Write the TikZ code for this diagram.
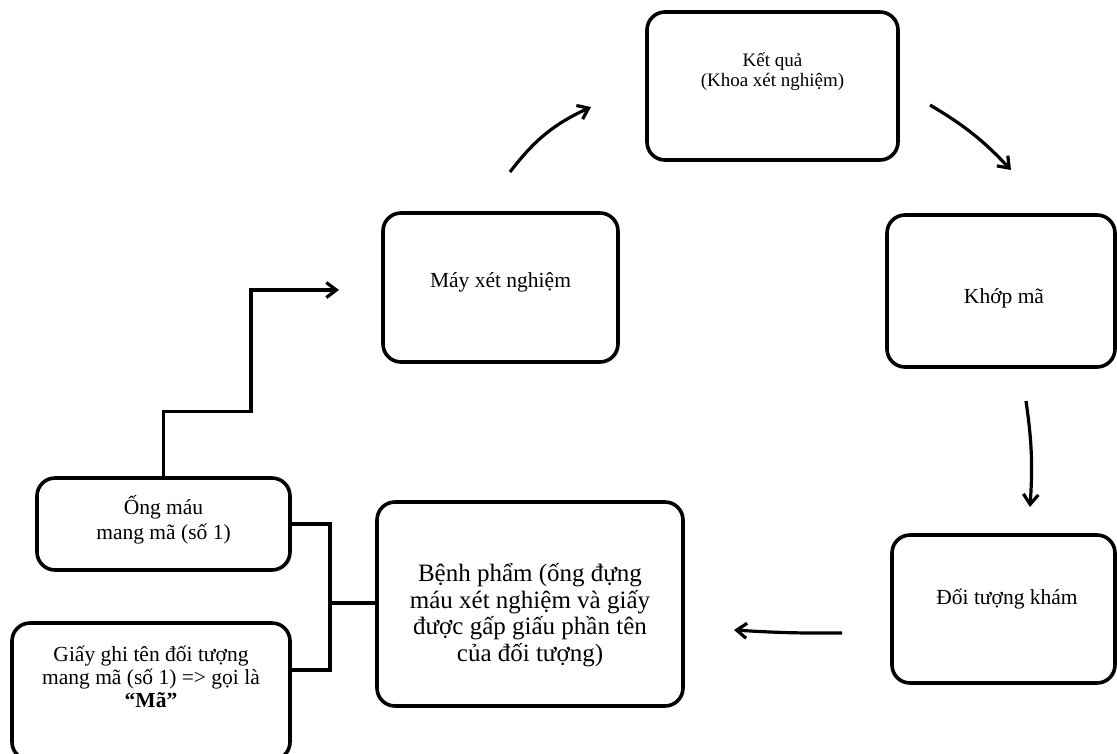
\documentclass[tikz,border=0pt]{standalone}
\usepackage{fontspec}
\setmainfont{Liberation Serif}
\usetikzlibrary{arrows.meta}
\tikzset{
  box/.style={draw, line width=3.6pt, rounded corners=18pt, inner sep=0pt},
  txt/.style={font=\fontsize{21.5}{25}\selectfont, align=center, text=black, inner sep=0pt},
  conn/.style={line width=3.2pt},
  arr/.style={line width=3.2pt, -{Straight Barb[length=10pt,width=15pt]}},
}
\begin{document}
\begin{tikzpicture}[x=1pt,y=-1pt]
\useasboundingbox (0,0) rectangle (1117,753);
\fill[white] (0,0) rectangle (1117,753);

\node[box, minimum width=251pt, minimum height=148pt,
  label={[txt, font=\fontsize{19}{20}\selectfont, yshift=14pt]center:Kết quả\\(Khoa xét nghiệm)}] (ketqua) at (772.5,86) {};
\node[box, minimum width=235pt, minimum height=149pt,
  label={[txt, yshift=5pt]center:Máy xét nghiệm}] (may) at (500.5,287.5) {};
\node[box, minimum width=228pt, minimum height=152pt,
  label={[txt, yshift=-7pt, xshift=3pt]center:Khớp mã}] (khop) at (1001,291) {};
\node[box, minimum width=223pt, minimum height=148pt,
  label={[txt, yshift=10pt, xshift=3.5pt]center:Đối tượng khám}] (doi) at (1003.5,609) {};
\node[box, minimum width=306pt, minimum height=204pt,
  label={[txt, font=\fontsize{25}{26.5}\selectfont, yshift=-11pt]center:Bệnh phẩm (ống đựng\\máu xét nghiệm và giấy\\được gấp giấu phần tên\\của đối tượng)}] (benh) at (530,604) {};
\node[box, minimum width=253pt, minimum height=92pt,
  label={[txt, yshift=4pt]center:Ống máu\\mang mã (số 1)}] (ong) at (163.5,524) {};
\node[box, minimum width=278pt, minimum height=137pt,
  label={[txt, font=\fontsize{21.5}{23}\selectfont, yshift=15pt]center:Giấy ghi tên đối tượng\\mang mã (số 1) => gọi là\\\textbf{“Mã”}}] (giay) at (151,691.5) {};

% joining lines
\coordinate (j) at (330,603);
\draw[conn] (ong.east) -| (j) |- ([yshift=21.5pt]giay.east);
\draw[conn] (j) -- (benh.west |- j);

% stair arrow to the machine
\coordinate (mayin) at (339,290);
\draw[arr] (ong.north) -- ++(0,-65) -| (251,290) -- (mayin);

% free arrows of the cycle
\coordinate (a1) at (510,172);
\coordinate (a2) at (591,107);
\draw[arr] (a1) to[bend left=14] (a2);
\coordinate (b1) at (930,105);
\coordinate (b2) at (1011,170);
\draw[arr] (b1) to[bend left=8] (b2);
\coordinate (c1) at (1026,401);
\coordinate (c2) at (1030,507);
\draw[arr] (c1) to[bend left=6] (c2);
\coordinate (d1) at (842,633);
\coordinate (d2) at (734,630);
\draw[arr] (d1) to[bend left=2] (d2);
\end{tikzpicture}
\end{document}
